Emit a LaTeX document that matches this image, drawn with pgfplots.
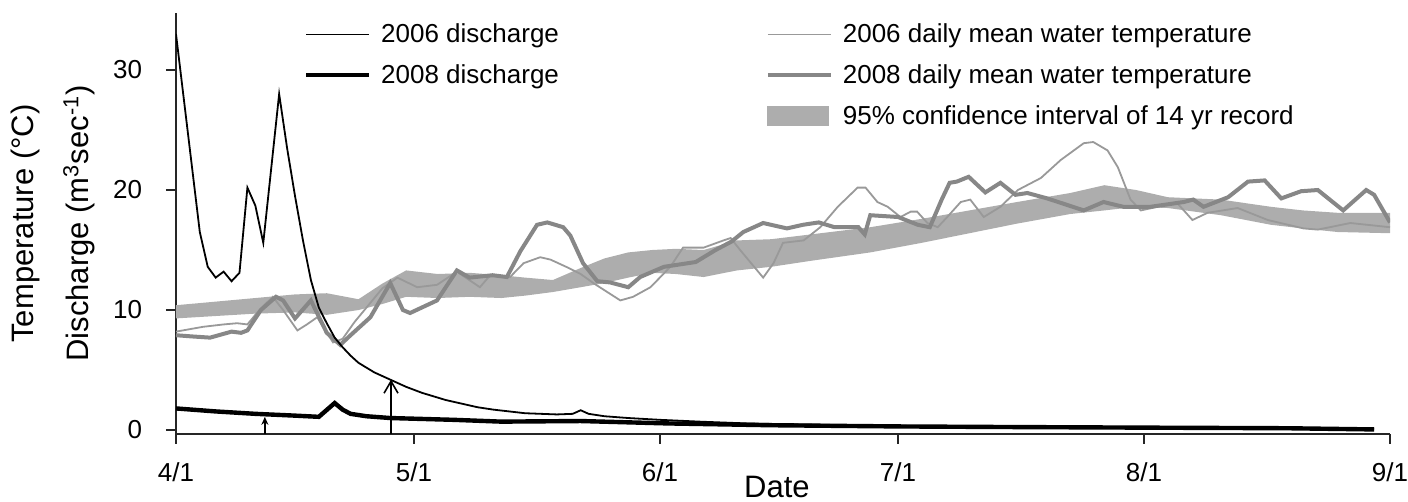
\documentclass[border=0pt]{standalone}
\usepackage{fontspec}
\setmainfont{Liberation Sans}
\usepackage{pgfplots}
\usepackage{pgfplotstable}
\pgfplotsset{compat=1.18}
\usetikzlibrary{arrows.meta}

\definecolor{band}{gray}{0.68}
\definecolor{tthin}{gray}{0.60}
\definecolor{tthick}{gray}{0.53}

\newcommand{\labfont}{\fontsize{15.5}{18}\selectfont}

% 95% CI band: upper edge forward, then lower edge backward
\pgfplotstableread{
d v
0 10.4
5 10.7
10 11.0
15 11.3
19 11.4
23 10.9
26 12.2
29 13.3
33 13.0
37 13.1
41 12.9
44 12.7
47.5 12.5
51 13.5
54 14.3
57 14.8
60 15.0
63 15.1
66.5 15.0
70.7 15.8
75 15.9
80 16.3
87.5 16.9
94 17.6
100 18.3
106 19.0
112.7 19.75
117 20.4
121 20.0
125 19.4
131.7 19.2
138 18.6
142 18.3
146.4 18.1
153 18.1
153 16.4
146.4 16.5
142 16.8
138 17.1
131.7 17.9
125 18.5
121 18.6
117 18.3
112.7 18.0
106 17.2
100 16.4
94 15.6
87.5 14.8
80 14.1
75 13.6
70.7 13.3
66.5 12.75
63 13.0
60 13.1
57 12.7
54 12.25
51 11.9
47.5 11.5
44 11.2
41 11.0
37 11.1
33 11.0
29 11.1
26 10.5
23 10.0
19 9.6
15 9.8
10 9.7
5 9.5
0 9.3
}\ci

\pgfplotstableread{
d v
0 8.2
3.4 8.6
6 8.8
7.7 8.9
9 8.8
10.5 10.0
12.2 11.1
13.5 10.0
15.3 8.3
16.5 8.8
17.8 9.4
19 8.1
19.8 7.3
21 7.6
22.5 9.0
24.5 10.6
26 11.8
27.9 12.7
30.4 11.9
32.9 12.1
35.4 13.2
38.3 11.9
39.6 12.9
42.1 12.75
43.8 13.9
45.9 14.4
47.2 14.2
49.5 13.5
51 13.0
52.7 12.2
56.0 10.8
57.6 11.1
59.8 11.9
62.3 13.6
63.9 15.2
66.5 15.2
69.0 15.8
69.9 16.0
71.1 15.0
74.0 12.7
75.3 13.9
76.5 15.6
79.1 15.8
81.2 16.9
83.4 18.6
85.9 20.2
86.9 20.2
88.4 19.0
89.7 18.6
91.3 17.75
92.6 18.2
93.4 18.2
94.7 17.25
96.0 16.9
97.2 17.75
98.9 19.0
100.1 19.2
101.8 17.75
103.9 18.6
106.1 20.0
109.0 21.0
111.5 22.5
114.4 23.9
115.6 24.0
117.4 23.3
118.7 21.9
120.3 19.2
121.6 18.3
123.7 18.6
126.2 18.9
128.1 17.5
130.0 18.1
133.8 18.5
137.6 17.5
142.1 16.8
143.9 16.7
148.0 17.25
153 16.9
}\tsix

\pgfplotstableread{
d v
0 7.9
2 7.8
4.3 7.7
7.0 8.2
8.2 8.1
9 8.3
10.7 10.0
12.6 11.1
13.5 10.8
15.0 9.3
17.0 10.8
19.0 8.1
20.7 7.1
22.0 7.9
24.5 9.4
27.0 12.25
28.6 10.0
29.5 9.75
32.9 10.8
35.4 13.3
37.0 12.7
39.9 12.9
41.7 12.75
43.4 14.9
45.5 17.1
46.8 17.3
48.8 16.9
49.7 16.2
51.3 13.9
53.1 12.4
54.7 12.3
57.0 11.9
58.5 12.75
61.5 13.6
65.5 14.0
68.0 15.0
70 15.7
71.5 16.5
74 17.25
77 16.8
79 17.1
81 17.3
83 16.9
86 16.9
86.8 16.3
87.5 17.9
91 17.75
93.5 17.1
95 16.9
96.5 19.2
97.5 20.6
98.4 20.7
99.9 21.1
102.0 19.8
103.9 20.6
105.8 19.6
107.3 19.75
109.8 19.3
114.4 18.3
116.9 19.0
119.4 18.6
122.8 18.6
127.0 19.0
128.2 19.2
129.5 18.6
132.6 19.4
135.1 20.7
137.2 20.8
139.3 19.3
141.8 19.9
143.9 20.0
147.1 18.3
150.0 20.0
151.0 19.6
153 17.3
}\teight

\pgfplotstableread{
d v
0 33.0
1 27.5
2 22.0
3 16.5
4 13.6
5 12.7
6 13.2
7 12.4
8 13.1
9 20.2
10 18.7
11 15.6
12 21.8
13 28.0
14 23.5
15 19.5
16 15.8
17 12.5
18 10.2
19 8.9
20 7.7
21 6.9
22 6.2
23 5.6
24 5.2
25 4.8
26 4.5
27 4.2
28 3.9
29 3.6
30 3.35
31 3.1
32 2.9
33 2.7
34 2.5
35 2.35
36 2.2
37 2.05
38 1.9
39 1.8
40 1.7
42 1.55
44 1.4
46 1.35
48 1.3
50 1.35
51 1.65
52 1.35
54 1.15
57 1.0
61 0.85
66 0.7
72 0.55
80 0.45
91 0.35
105 0.28
122 0.2
137 0.15
151 0.1
}\qsix

\pgfplotstableread{
d v
0 1.8
5 1.55
10 1.35
15 1.2
18 1.1
20 2.25
21 1.7
22 1.35
24 1.15
27 1.0
35 0.85
41 0.7
51 0.75
62 0.55
75 0.4
91 0.3
105 0.25
122 0.2
140 0.15
151 0.05
}\qeight

\pgfplotsset{
  common/.style={
    at={(0pt,0pt)}, anchor=south west,
    scale only axis, width=607pt, height=210.5pt,
    xmin=0, xmax=153, ymin=-0.33, ymax=34.75,
    legend cell align=left,
    legend image code/.code={\draw[##1] (0pt,0pt) -- (31.5pt,0pt);},
  },
  leg/.style={draw=none, fill=none, anchor=north west,
    font=\fontsize{13}{15}\selectfont,
    /tikz/every odd column/.append style={column sep=3pt},
    row sep=5.5pt},
}

\begin{document}
\begin{tikzpicture}
\path[use as bounding box] (-88pt,-34pt) rectangle (616pt,217pt);
% temperature axis (with visible axes)
\begin{axis}[
  common,
  axis x line*=bottom, axis y line*=left,
  axis line style={black!85, line width=0.8pt},
  tick style={black!85, line width=0.8pt},
  major tick length=5pt, tick align=outside,
  xtick={0,30,61,91,122,153},
  xticklabels={4/1,5/1,6/1,7/1,8/1,9/1},
  ytick={0,10,20,30},
  /pgf/number format/assume math mode=true,
  tick label style={font=\fontsize{10}{12}\selectfont, scale=1.3, inner sep=0pt},
  xticklabel style={anchor=north, yshift=-7pt},
  yticklabel style={anchor=east, xshift=-9pt},
  xlabel={\labfont Date},
  xlabel style={font=\labfont, at={(axis description cs:0.495,-0.126)}, anchor=center},
  ylabel={{\labfont Temperature (°C)}\\[9.5pt]{\labfont Discharge (m\textsuperscript{3}sec\textsuperscript{-1})}},
  ylabel style={font=\labfont, align=center, at={(axis description cs:-0.101,0.5)}, anchor=center},
  legend style={leg, at={(axis description cs:0.4806,0.995)}},
]
\addplot[fill=band, draw=none, forget plot] table[x=d, y=v] {\ci};
\addplot[tthin, line width=0.9pt, forget plot] table[x=d, y=v] {\tsix};
\addplot[tthick, line width=2pt, forget plot] table[x=d, y=v] {\teight};
\addlegendimage{tthin, line width=0.9pt}
\addlegendentry{2006 daily mean water temperature}
\addlegendimage{tthick, line width=2pt}
\addlegendentry{2008 daily mean water temperature}
\addlegendimage{legend image code/.code={\fill[band] (0pt,-4.75pt) rectangle (30.5pt,4.75pt);}}
\addlegendentry{95\% confidence interval of 14 yr record}
\end{axis}
% discharge axis (same frame, hidden)
\begin{axis}[
  common,
  hide axis,
  legend style={leg, at={(axis description cs:0.1,0.995)}},
]
\addplot[black, line width=2.2pt, forget plot] table[x=d, y=v] {\qeight};
\addplot[black, line width=0.9pt, forget plot] table[x=d, y=v] {\qsix};
\draw[black, line width=0.8pt, -{Straight Barb[length=6pt,width=7pt]}] (axis cs:27.1,-0.33) -- (axis cs:27.1,4.2);
\draw[black, line width=0.8pt, -{Stealth[length=4pt,width=3.5pt]}] (axis cs:11.2,-0.33) -- (axis cs:11.2,1.1);
\addlegendimage{black, line width=0.9pt}
\addlegendentry{2006 discharge}
\addlegendimage{black, line width=2.2pt}
\addlegendentry{2008 discharge}
\end{axis}
\end{tikzpicture}
\end{document}
